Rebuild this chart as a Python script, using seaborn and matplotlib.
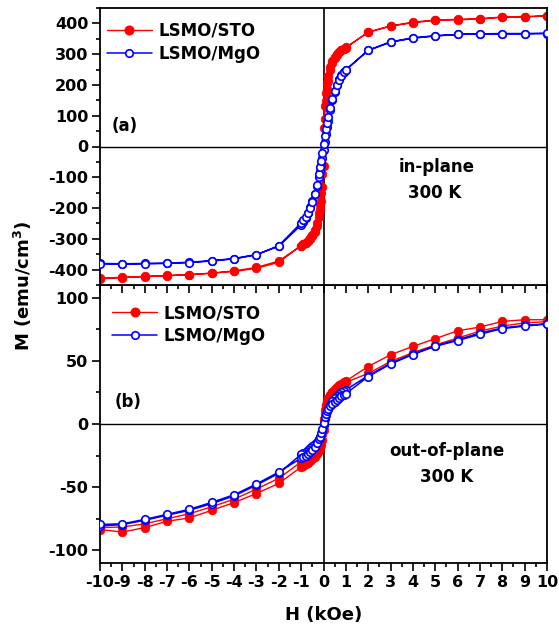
import numpy as np
import matplotlib
matplotlib.use("Agg")
import matplotlib.pyplot as plt
from matplotlib.lines import Line2D
from matplotlib.ticker import MultipleLocator
import seaborn as sns

# ---------------- data ----------------
H_grid = [-10, -9, -8, -7, -6, -5, -4, -3, -2, -1, -0.9, -0.8, -0.7, -0.6, -0.5,
          -0.4, -0.3, -0.2, -0.15, -0.1, -0.05, 0, 0.05, 0.1, 0.15, 0.2, 0.3, 0.4,
          0.5, 0.6, 0.7, 0.8, 0.9, 1, 2, 3, 4, 5, 6, 7, 8, 9, 10]

# (a) in-plane, emu/cm3
sto_a_down = [-428, -425, -422, -419, -417, -411, -406, -396, -376, -322, -318, -313,
              -307, -298, -287, -272, -250, -215, -190, -150, -90, 60, 130, 175, 205,
              230, 258, 278, 291, 300, 307, 313, 318, 322, 371, 391, 402, 410, 412,
              414, 420, 421, 424]
sto_a_up = [-430, -426, -423, -420, -416, -412, -404, -393, -372, -322, -318, -312,
            -306, -299, -290, -278, -258, -230, -206, -176, -132, -62, 88, 148, 188,
            214, 250, 271, 286, 297, 306, 312, 317, 321, 372, 392, 404, 411, 413,
            415, 421, 422, 425]
mgo_a_down = [-380, -381, -380, -379, -376, -371, -364, -351, -324, -255, -245, -232,
              -216, -198, -178, -155, -128, -98, -80, -60, -38, -12, 14, 40, 62, 84,
              118, 150, 178, 200, 218, 232, 242, 250, 312, 339, 352, 359, 364, 366,
              366, 366, 367]
mgo_a_up = [-381, -382, -381, -380, -377, -372, -365, -352, -322, -248, -240, -230,
            -216, -200, -180, -154, -124, -90, -68, -46, -20, 8, 34, 56, 76, 96, 126,
            155, 180, 200, 216, 230, 241, 248, 313, 340, 353, 360, 364, 366, 367,
            367, 368]

# (b) out-of-plane, emu/cm3
sto_b_down = [-83.5, -85.5, -82, -77, -74.3, -68.3, -62.2, -55, -47, -34, -33, -32,
              -30.5, -29, -27.5, -26, -24, -21, -19, -16.5, -13, -5, 8, 14, 17.5, 20,
              23, 25.5, 27.5, 29, 30.5, 32, 33, 34, 45.5, 54.8, 61.4, 67.5, 73.8,
              76.7, 81.2, 82.5, 82.5]
sto_b_up = [-82, -81.5, -79, -75, -71, -65.5, -59.5, -51.5, -43, -30, -29, -27.5,
            -26, -24.5, -23, -21, -19, -16, -14, -11.5, -8, 4, 11, 15, 18, 20.5, 23,
            25, 27, 28.5, 29.5, 31, 32, 33, 40, 49.5, 56.5, 62.5, 68, 73.5, 77.5,
            80, 81]
mgo_b_down = [-80.7, -79.6, -76.2, -72.2, -68.3, -63, -56.9, -48.4, -39, -24, -23,
              -22, -20.5, -19, -17.5, -16, -14, -11.5, -10, -8, -5.5, -1, 4, 7.5, 10,
              12, 15, 18, 20.5, 22, 23.5, 25, 26, 27, 38.3, 48.1, 55.5, 61.9, 66.7,
              72, 76, 78, 79.4]
mgo_b_up = [-79.5, -79, -75.5, -71.5, -67.5, -62, -56, -47.5, -38, -27, -26, -25,
            -23.5, -22, -20.5, -18, -15, -12, -10, -7.5, -4, 1, 5.5, 8, 10, 11.5, 14,
            16, 17.5, 19, 20.5, 22, 23, 24, 37.5, 47.5, 55, 61.5, 66, 71, 75.5,
            77.5, 79]

labels = ["LSMO/STO", "LSMO/MgO"]
x_ticks = list(range(-10, 11))
ya_ticks = [-400, -300, -200, -100, 0, 100, 200, 300, 400]
yb_ticks = [-100, -50, 0, 50, 100]

# ---------------- style ----------------
sns.set_theme(style="white")
plt.rcParams["font.family"] = ["DejaVu Sans"]
plt.rcParams["font.weight"] = "bold"
plt.rcParams["mathtext.fontset"] = "dejavusans"
plt.rcParams["mathtext.default"] = "bf"
for key in ("text.color", "axes.labelcolor", "xtick.color", "ytick.color",
            "axes.edgecolor"):
    plt.rcParams[key] = "black"

RED = "#ff0000"
BLUE = "#0000ff"

fig = plt.figure(figsize=(5.59, 6.28), dpi=100)
L, W = 100 / 559, 447 / 559
ax1 = fig.add_axes([L, 1 - 285 / 628, W, 277 / 628])
ax2 = fig.add_axes([L, 1 - 563 / 628, W, 278 / 628])
ax1.set_zorder(3)


def loop(down, up):
    h = list(H_grid[::-1]) + list(H_grid)
    m = list(down[::-1]) + list(up)
    return h, m


def draw(ax, sto_down, sto_up, mgo_down, mgo_up):
    ax.axhline(0, color="black", lw=1.0, zorder=1)
    ax.axvline(0, color="black", lw=1.2, zorder=1)
    hm, mm = loop(mgo_down, mgo_up)
    hs, ms = loop(sto_down, sto_up)
    sns.lineplot(x=hm, y=mm, ax=ax, sort=False, estimator=None, color=BLUE,
                 lw=1.1, marker="o", markersize=5.4, markerfacecolor="white",
                 markeredgecolor=BLUE, markeredgewidth=1.2, zorder=3)
    sns.lineplot(x=hs, y=ms, ax=ax, sort=False, estimator=None, color=RED,
                 lw=1.0, marker="o", markersize=6.2, markerfacecolor=RED,
                 markeredgecolor=RED, markeredgewidth=0.5, zorder=2)


draw(ax1, sto_a_down, sto_a_up, mgo_a_down, mgo_a_up)
draw(ax2, sto_b_down, sto_b_up, mgo_b_down, mgo_b_up)

TICK_FS = 11.5
for ax in (ax1, ax2):
    ax.set_xlim(-10, 10)
    ax.set_xticks(x_ticks)
    ax.xaxis.set_minor_locator(MultipleLocator(0.5))
    for s in ax.spines.values():
        s.set_linewidth(1.3)
        s.set_color("black")
    ax.tick_params(axis="both", which="both", direction="out", color="black",
                   labelcolor="black", left=True, bottom=True, top=False,
                   right=False, width=1.2)
    ax.tick_params(axis="both", which="major", length=5.5, labelsize=TICK_FS, pad=3)
    ax.tick_params(axis="both", which="minor", length=3)
    ax.set_xlabel("")
    ax.set_ylabel("")

ax1.set_ylim(-450, 450)
ax1.set_yticks(ya_ticks)
ax1.yaxis.set_minor_locator(MultipleLocator(50))
ax1.tick_params(axis="x", labelbottom=False)

ax2.set_ylim(-110, 110)
ax2.set_yticks(yb_ticks)
ax2.yaxis.set_minor_locator(MultipleLocator(25))
ax2.set_xticklabels([str(v) for v in x_ticks], fontweight="bold")
ax2.tick_params(axis="x", pad=3)
ax1.set_yticklabels([str(v) for v in ya_ticks], fontweight="bold")
ax2.set_yticklabels([str(v) for v in yb_ticks], fontweight="bold")


def make_handles():
    return [
        Line2D([], [], color=RED, lw=1.0, marker="o", markersize=6.2,
               markerfacecolor=RED, markeredgecolor=RED),
        Line2D([], [], color=BLUE, lw=1.1, marker="o", markersize=5.4,
               markerfacecolor="white", markeredgecolor=BLUE, markeredgewidth=1.2),
    ]


leg_kw = dict(frameon=False, loc="upper left", borderaxespad=0, borderpad=0,
              handlelength=2.7, handletextpad=0.4, labelspacing=0.3,
              prop={"weight": "bold", "size": 12})
ax1.legend(make_handles(), labels, bbox_to_anchor=(0.015, 0.951), **leg_kw)
ax2.legend(make_handles(), labels, bbox_to_anchor=(0.027, 0.931), **leg_kw)

txt = dict(fontsize=12, fontweight="bold", color="black")
ax1.text(-9.47, 65, "(a)", ha="left", va="center", **txt)
ax1.text(5.06, -68, "in-plane", ha="center", va="center", **txt)
ax1.text(4.95, -150, "300 K", ha="center", va="center", **txt)
ax2.text(-9.33, 17.5, "(b)", ha="left", va="center", **txt)
ax2.text(5.5, -21, "out-of-plane", ha="center", va="center", **txt)
ax2.text(5.53, -42, "300 K", ha="center", va="center", **txt)

fig.text(22.5 / 559, 1 - 286 / 628, r"M (emu/cm$^{3}$)", rotation=90,
         ha="center", va="center", fontsize=13, fontweight="bold", color="black")
fig.text(323.5 / 559, 1 - 615 / 628, "H (kOe)", ha="center", va="center",
         fontsize=13, fontweight="bold", color="black")

fig.savefig("out.png", dpi=100)
